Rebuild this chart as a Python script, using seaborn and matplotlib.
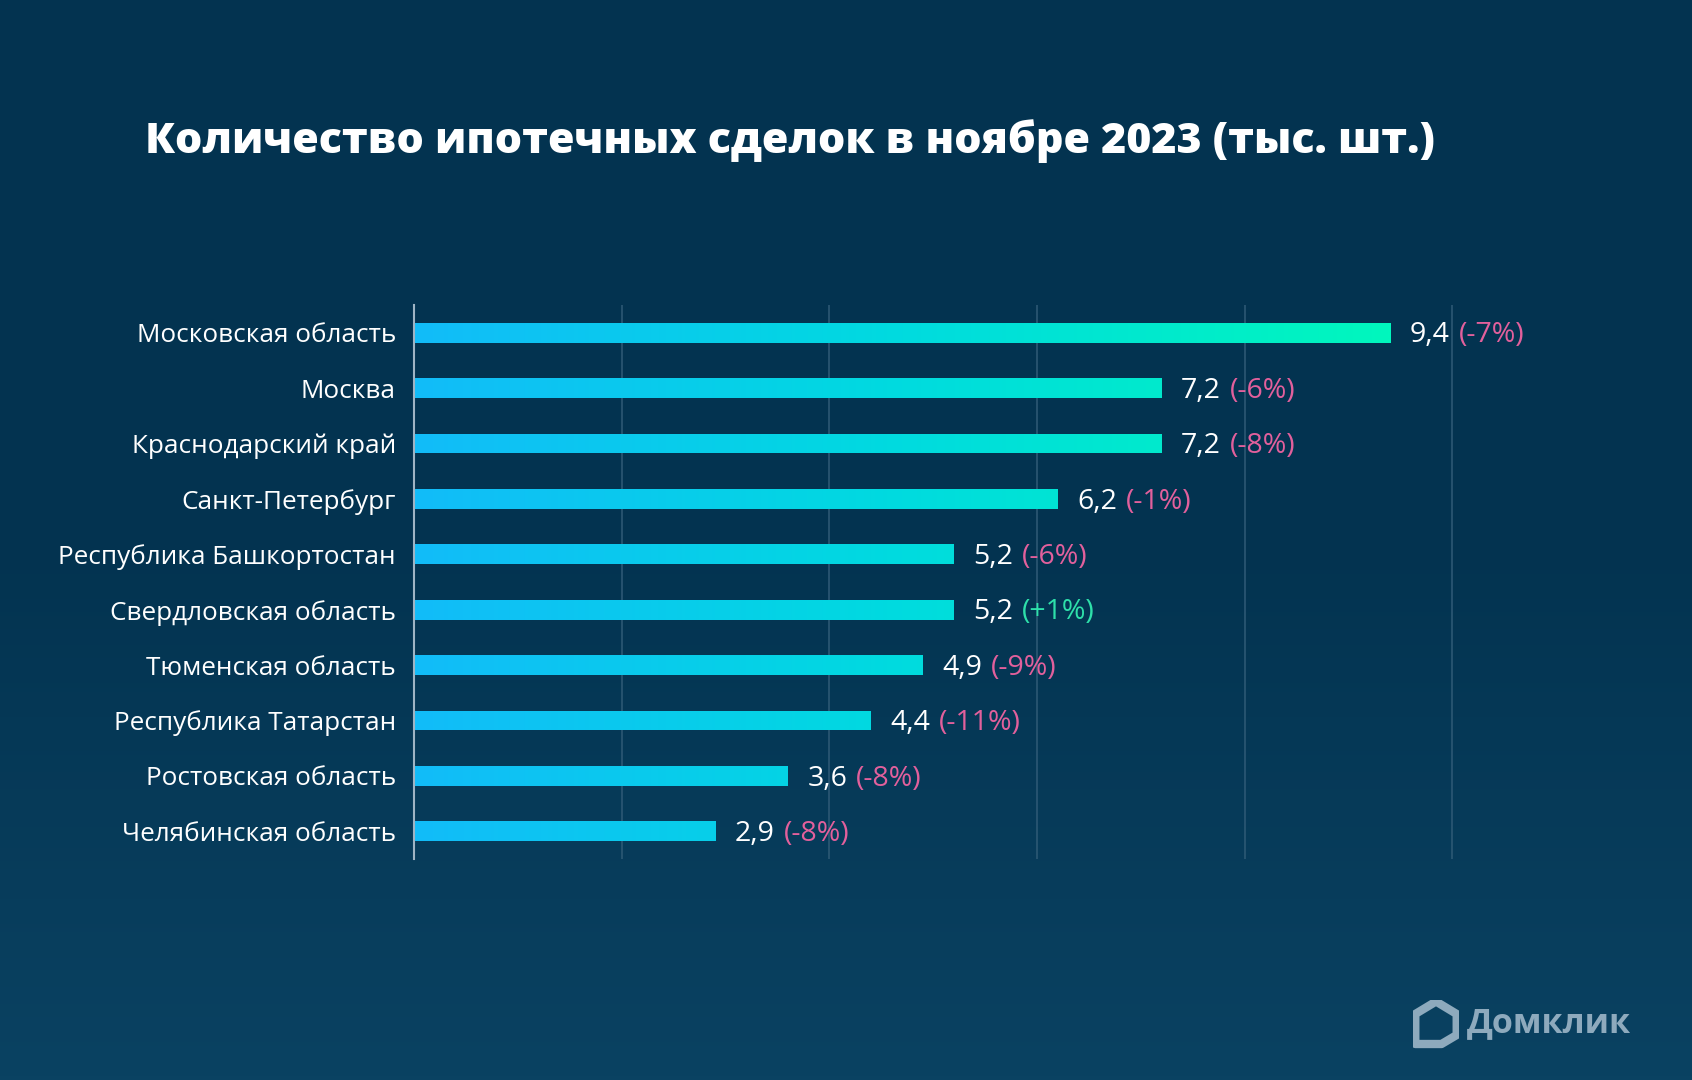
import numpy as np
import pandas as pd
import matplotlib
matplotlib.use("Agg")
import matplotlib.pyplot as plt
import seaborn as sns
from matplotlib.colors import LinearSegmentedColormap
from matplotlib.patches import Polygon

regions = ["Московская область", "Москва", "Краснодарский край", "Санкт-Петербург",
           "Республика Башкортостан", "Свердловская область", "Тюменская область",
           "Республика Татарстан", "Ростовская область", "Челябинская область"]
values = [9.4, 7.2, 7.2, 6.2, 5.2, 5.2, 4.9, 4.4, 3.6, 2.9]
value_labels = ["9,4", "7,2", "7,2", "6,2", "5,2", "5,2", "4,9", "4,4", "3,6", "2,9"]
changes = ["(-7%)", "(-6%)", "(-8%)", "(-1%)", "(-6%)", "(+1%)", "(-9%)", "(-11%)", "(-8%)", "(-8%)"]
x_ticks = [2, 4, 6, 8, 10]
title = "Количество ипотечных сделок в ноябре 2023 (тыс. шт.)"

df = pd.DataFrame({"region": regions, "value": values})

sns.set_theme(style="white")
plt.rcParams["font.family"] = ["Open Sans", "DejaVu Sans"]

BG_TOP = "#033350"
BG_BOT = "#0a4262"
fig = plt.figure(figsize=(16.92, 10.8), dpi=100)
fig.patch.set_facecolor(BG_TOP)

# background gradient
bg = fig.add_axes([0, 0, 1, 1], zorder=-10)
grad = np.linspace(0, 1, 256).reshape(-1, 1)
bg_cmap = LinearSegmentedColormap.from_list("bg", [BG_TOP, BG_TOP, BG_BOT])
bg.imshow(grad, aspect="auto", cmap=bg_cmap, extent=(0, 1, 0, 1), origin="upper")
bg.set_axis_off()

ax = fig.add_axes([0.2447, 0.2046, 0.7364, 0.513])
ax.set_facecolor("none")
sns.barplot(data=df, x="value", y="region", orient="h", color="#12bcf9",
            width=0.36, ax=ax, zorder=3, linewidth=0, edgecolor="none")

bar_cmap = LinearSegmentedColormap.from_list("bars", ["#12bcf9", "#00dbdf", "#00f7bd"])
xmax = 12
gx = np.linspace(0, 1, 512).reshape(1, -1)
for p in ax.patches:
    im = ax.imshow(gx, aspect="auto", cmap=bar_cmap, vmin=0, vmax=1,
                   extent=(0, max(values), p.get_y() + p.get_height(), p.get_y()),
                   zorder=4)
    im.set_clip_path(p)
ax.set_xlim(0, xmax)
ax.set_ylim(len(regions) - 0.5, -0.5)

ax.set_xticks(x_ticks)
ax.xaxis.grid(True, color="#2c5874", linewidth=1.2, zorder=0)
ax.yaxis.grid(False)
ax.tick_params(axis="x", length=0, labelbottom=False)
ax.tick_params(axis="y", length=0, pad=13, labelsize=18.8, labelcolor="white")
ax.set_xlabel("")
ax.set_ylabel("")
for s in ["top", "right", "bottom"]:
    ax.spines[s].set_visible(False)
ax.spines["left"].set_color("#9fb4c4")
ax.spines["left"].set_linewidth(1.5)
ax.spines["left"].set_zorder(6)

for i, (v, vl, ch) in enumerate(zip(values, value_labels, changes)):
    t = ax.annotate(vl, xy=(v, i), xytext=(14, -2), textcoords="offset points",
                    va="center", ha="left", color="white", fontsize=20.5)
    col = "#2ee0aa" if ch.startswith("(+") else "#e2609c"
    ax.annotate(ch, xy=(1, 0.5), xycoords=t, xytext=(6.5, 0), textcoords="offset points",
                va="center", ha="left", color=col, fontsize=20.5)

fig.text(145 / 1692, 1 - 141 / 1080, title, color="white", fontsize=31,
         fontweight="heavy", va="center", ha="left")

# logo
logo_ax = fig.add_axes([1413 / 1692, 1 - 1050 / 1080, 46 / 1692, 50 / 1080])
logo_ax.set_xlim(0, 1)
logo_ax.set_ylim(0, 1)
logo_ax.set_axis_off()
logo_col = "#8eaabd"
logo_ax.add_patch(Polygon([[0.05, 0.12], [0.05, 0.72], [0.5, 0.97], [0.95, 0.72],
                           [0.95, 0.3], [0.62, 0.12]], closed=True, fill=False,
                          edgecolor=logo_col, linewidth=6, joinstyle="round"))
fig.text(1467 / 1692, 1 - 1023 / 1080, "Домклик", color=logo_col, fontsize=24.5,
         fontweight="bold", va="center", ha="left")

fig.savefig("out.png", dpi=100, facecolor=fig.get_facecolor())
